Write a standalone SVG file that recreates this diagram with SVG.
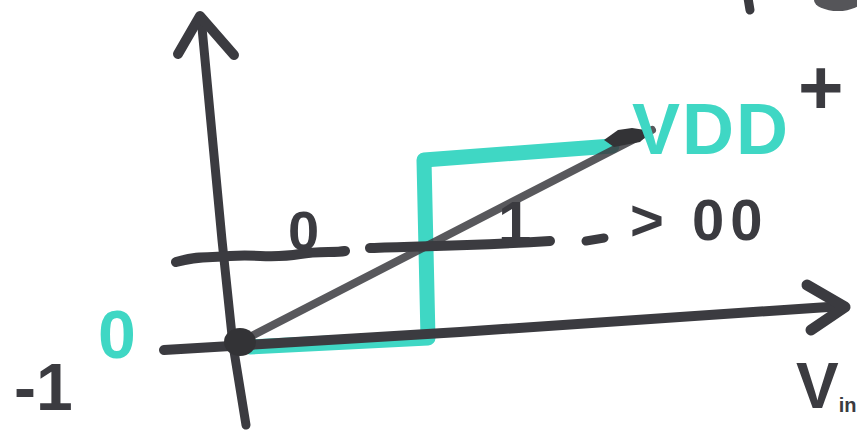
<svg xmlns="http://www.w3.org/2000/svg" width="857" height="435" viewBox="0 0 857 435">
<style>
.ink{fill:none;stroke:#3b3b40;stroke-linecap:round;stroke-linejoin:round}
.teal{fill:none;stroke:#3fd7c4;stroke-linecap:round;stroke-linejoin:round}
.t{font-family:"Liberation Sans",Arial,sans-serif;font-weight:bold;fill:#3b3b40}
.tt{font-family:"Liberation Sans",Arial,sans-serif;font-weight:bold;fill:#3fd7c4}
</style>
<rect width="857" height="435" fill="#ffffff"/>
<g id="step">
<path class="teal" stroke-width="15" d="M250 347 L428 338 L424 160 L612 146"/>
</g>
<g id="connectors">
<path class="ink" stroke-width="9" d="M246 425 L233 345 L222 240 L201 17"/>
<path class="ink" stroke-width="10" d="M178 54 L200 16 L234 55"/>
<path class="ink" stroke-width="10" d="M164 350 L460 332 L843 306"/>
<path class="ink" stroke-width="11" d="M807 285 L845 307 L811 330"/>
<path class="ink" stroke-width="8" stroke-opacity="0.85" d="M240 342 L652 130"/>
<path class="ink" stroke-width="10" d="M176 262 C200 255 210 258 230 256 C260 254 270 259 300 254 C320 251 335 253 345 251"/>
<path class="ink" stroke-width="10" d="M370 248 C420 246 470 246 550 241"/>
<path class="ink" stroke-width="9" d="M586 241 L604 238"/>
</g>
<g id="blobs">
<ellipse cx="240" cy="342" rx="16" ry="14" fill="#333336"/>
<path d="M604 140 L618 130 L632 128 L652 131 L640 142 L614 147 Z" fill="#333336"/>
<path class="ink" stroke-width="9" d="M748 -2 L750 10"/>
<ellipse cx="838" cy="0" rx="24" ry="11" fill="#555559"/>
</g>
<g id="labels">
<text class="t" x="288" y="250" font-size="56">0</text>
<text class="t" x="498" y="243" font-size="60">1</text>
<text class="t" x="630" y="240" font-size="58" letter-spacing="6">&gt; 00</text>
<text class="tt" x="632" y="154" font-size="72" letter-spacing="2">VDD</text>
<text class="t" x="798" y="114" font-size="78">+</text>
<text class="t" x="14" y="410" font-size="66">-1</text>
<text class="tt" x="98" y="358" font-size="68">0</text>
<text class="t" x="796" y="408" font-size="64">V<tspan font-size="20" dy="4">in</tspan></text>
</g>
</svg>
